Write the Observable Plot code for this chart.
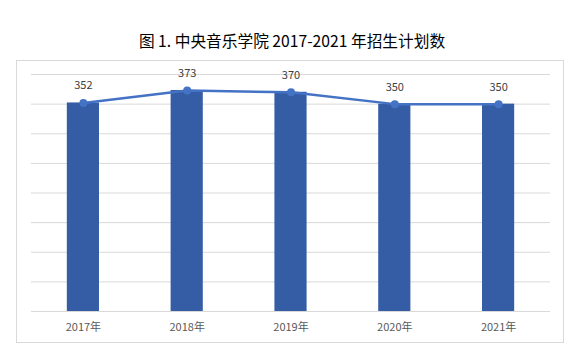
<!DOCTYPE html>
<html>
<head>
<meta charset="utf-8">
<script src="https://cdn.jsdelivr.net/npm/d3@7"></script>
<script src="https://cdn.jsdelivr.net/npm/@observablehq/plot@0.6"></script>
<style>
  html, body { margin: 0; padding: 0; background: #fff; }
  body { width: 584px; height: 354px; position: relative; overflow: hidden; font-family: "Noto Sans CJK SC", "Noto Sans", sans-serif; }
  #title { position: absolute; top: 31px; left: 0; width: 584px; text-align: center; font-size: 15.7px; color: #000; line-height: 20px; }
  #frame { position: absolute; left: 16px; top: 60px; width: 548px; height: 283px; box-sizing: border-box; border: 1px solid #d9d9d9; }
  #frame svg { display: block; }
</style>
</head>
<body>
<div id="title">图 1. 中央音乐学院 2017-2021 年招生计划数</div>
<div id="frame"></div>
<script>
const years = ["2017年", "2018年", "2019年", "2020年", "2021年"];
const values = [352, 373, 370, 350, 350];
const gridTicks = [0, 50, 100, 150, 200, 250, 300, 350, 400];

const data = years.map((y, i) => ({year: y, value: values[i]}));

const chart = Plot.plot({
  width: 546,
  height: 281,
  marginLeft: 14,
  marginRight: 13,
  marginTop: 13,
  marginBottom: 31,
  style: {fontFamily: "'Noto Sans CJK SC', 'Noto Sans', sans-serif", fontSize: "11px", background: "transparent"},
  x: {domain: years, paddingInner: 0.69, paddingOuter: 0.345, round: false, label: null},
  y: {domain: [0, 400], axis: null},
  marks: [
    Plot.ruleY(gridTicks, {stroke: "#d9d9d9", strokeWidth: 1}),
    Plot.barY(data, {x: "year", y: "value", fill: "#355DA5"}),
    Plot.lineY(data, {x: "year", y: "value", stroke: "#4472C4", strokeWidth: 2.5}),
    Plot.dot(data, {x: "year", y: "value", r: 4, fill: "#4472C4", stroke: "none"}),
    Plot.text(data, {x: "year", y: "value", text: d => String(d.value), dy: -17, fill: "#404040", fontSize: 11}),
    Plot.axisX({tickSize: 0, tickPadding: 12, fill: "#595959", fontSize: 11, label: null})
  ]
});
document.getElementById("frame").appendChild(chart);
</script>
</body>
</html>
